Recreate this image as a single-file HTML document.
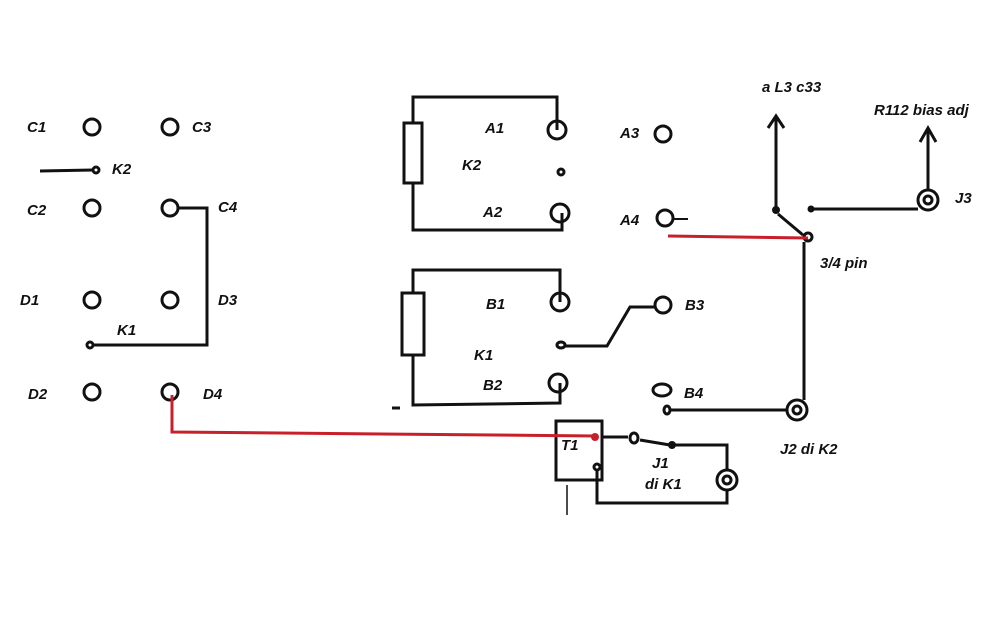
<!DOCTYPE html>
<html><head><style>body{margin:0;background:#fff}svg{display:block}text{font-family:"Liberation Sans",sans-serif;font-weight:bold;font-style:italic;font-size:15px;fill:#111}</style></head><body>
<svg width="1000" height="628" viewBox="0 0 1000 628" xmlns="http://www.w3.org/2000/svg">
<g fill="none" stroke="#111" stroke-width="3">
<circle cx="92" cy="127" r="8"/><circle cx="170" cy="127" r="8"/>
<circle cx="92" cy="208" r="8"/><circle cx="170" cy="208" r="8"/>
<circle cx="92" cy="300" r="8"/><circle cx="170" cy="300" r="8"/>
<circle cx="92" cy="392" r="8"/><circle cx="170" cy="392" r="8"/>
<circle cx="96" cy="170" r="3"/><line x1="40" y1="171" x2="93" y2="170"/>
<polyline points="178,208 207,208 207,345 93,345"/><circle cx="90" cy="345" r="3"/>
<polyline points="557,130 557,97 413,97 413,123"/>
<rect x="404" y="123" width="18" height="60"/>
<polyline points="413,183 413,230 562,230 562,213"/>
<circle cx="557" cy="130" r="9"/><circle cx="560" cy="213" r="9"/><circle cx="561" cy="172" r="3"/>
<circle cx="663" cy="134" r="8"/><circle cx="665" cy="218" r="8"/><line x1="673" y1="219" x2="688" y2="219" stroke-width="2"/>
<polyline points="560,302 560,270 413,270 413,293"/>
<rect x="402" y="293" width="22" height="62"/>
<polyline points="413,355 413,405 560,403 560,383"/>
<circle cx="560" cy="302" r="9"/><circle cx="558" cy="383" r="9"/><ellipse cx="561" cy="345" rx="4" ry="3"/>
<polyline points="565,346 607,346 630,307 655,307"/><circle cx="663" cy="305" r="8"/>
<ellipse cx="662" cy="390" rx="9" ry="6"/>
<line x1="392" y1="408" x2="400" y2="408" stroke-width="3"/>
<ellipse cx="667" cy="410" rx="3" ry="4"/><line x1="670" y1="410" x2="787" y2="410"/>
<circle cx="797" cy="410" r="10"/><circle cx="797" cy="410" r="4"/>
<line x1="804" y1="242" x2="804" y2="400"/>
<line x1="776" y1="212" x2="776" y2="118"/><polyline points="768,128 776,116 784,128"/>
<line x1="778" y1="214" x2="803" y2="235" stroke-width="3"/>
<circle cx="808" cy="237" r="4"/>
<line x1="814" y1="209" x2="918" y2="209"/>
<circle cx="928" cy="200" r="10"/><circle cx="928" cy="200" r="4"/>
<line x1="928" y1="190" x2="928" y2="130"/><polyline points="920,142 928,128 936,142"/>
<rect x="556" y="421" width="46" height="59"/>
<circle cx="597" cy="467" r="3"/>
<line x1="603" y1="437" x2="628" y2="437"/>
<ellipse cx="634" cy="438" rx="4" ry="5"/>
<line x1="640" y1="440" x2="670" y2="445"/>
<polyline points="672,445 727,445 727,470"/>
<circle cx="727" cy="480" r="10"/><circle cx="727" cy="480" r="4"/>
<polyline points="727,490 727,503 597,503 597,470"/>
<line x1="567" y1="485" x2="567" y2="515" stroke-width="1.5"/>
</g>
<g fill="#111"><circle cx="776" cy="210" r="4"/><circle cx="811" cy="209" r="3.5"/><circle cx="672" cy="445" r="4"/></g>
<g fill="none" stroke="#c8202a" stroke-width="3">
<polyline points="172,395 172,432 597,436"/>
<line x1="668" y1="236" x2="808" y2="238"/>
</g>
<circle cx="595" cy="437" r="4" fill="#c8202a"/>
<text x="27" y="132">C1</text><text x="192" y="132">C3</text>
<text x="112" y="174">K2</text>
<text x="27" y="215">C2</text><text x="218" y="212">C4</text>
<text x="20" y="305">D1</text><text x="218" y="305">D3</text>
<text x="117" y="335">K1</text>
<text x="28" y="399">D2</text><text x="203" y="399">D4</text>
<text x="485" y="133">A1</text><text x="462" y="170">K2</text><text x="483" y="217">A2</text>
<text x="620" y="138">A3</text><text x="620" y="225">A4</text>
<text x="486" y="309">B1</text><text x="474" y="360">K1</text><text x="483" y="390">B2</text>
<text x="685" y="310">B3</text><text x="684" y="398">B4</text>
<text x="561" y="450">T1</text><text x="652" y="468">J1</text><text x="645" y="489">di K1</text>
<text x="762" y="92">a L3 c33</text><text x="874" y="115">R112 bias adj</text>
<text x="955" y="203">J3</text><text x="820" y="268">3/4 pin</text>
<text x="780" y="454">J2  di K2</text>
</svg>
</body></html>
